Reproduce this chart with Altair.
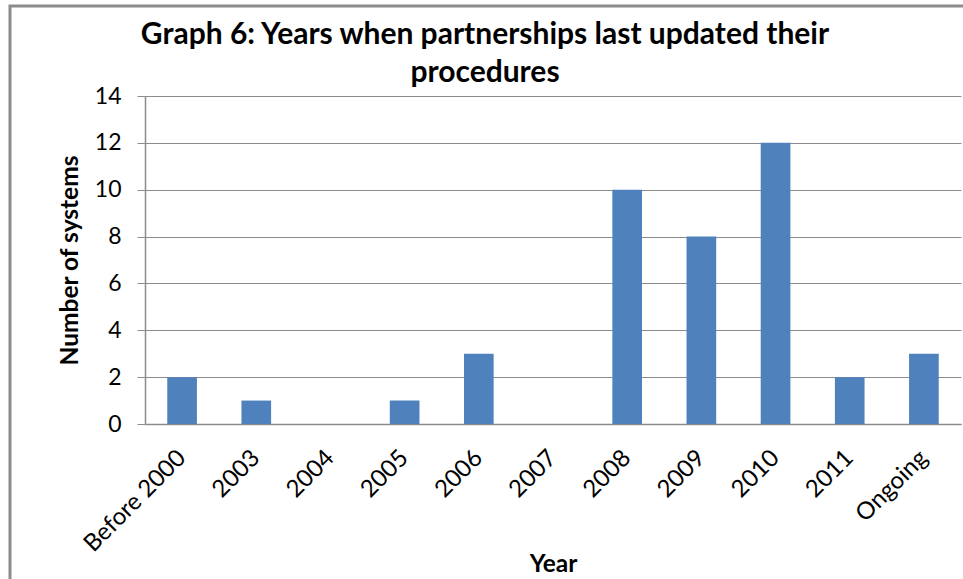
import altair as alt
import pandas as pd

categories = ["Before 2000", "2003", "2004", "2005", "2006", "2007", "2008", "2009", "2010", "2011", "Ongoing"]
values = [2, 1, 0, 1, 3, 0, 10, 8, 12, 2, 3]

df = pd.DataFrame({"Year": categories, "Count": values})

FONT = "Lato"

bars = alt.Chart(df).mark_bar(color="#4F81BD").encode(
    x=alt.X("Year:N", sort=categories,
            scale=alt.Scale(paddingInner=0.6, paddingOuter=0.3),
            axis=alt.Axis(title="Year", labelAngle=-45, labelAlign="right", labelBaseline="middle",
                          labelPadding=30, ticks=False, domainColor="#8C8C8C", domainWidth=1.5,
                          labelFontSize=24, labelFont=FONT, labelColor="#000000",
                          titleFontSize=24.5, titleFont=FONT, titleFontWeight="bold",
                          titleColor="#000000", titlePadding=-4)),
    y=alt.Y("Count:Q", scale=alt.Scale(domain=[0, 14], nice=False),
            axis=alt.Axis(title="Number of systems", values=list(range(0, 15, 2)),
                          tickSize=8, tickColor="#8C8C8C", domainColor="#8C8C8C",
                          gridColor="#8C8C8C", gridWidth=1, domainWidth=1.5,
                          labelFontSize=23, labelFont=FONT, labelColor="#000000", labelPadding=16,
                          titleFontSize=24.5, titleFont=FONT, titleFontWeight="bold",
                          titleColor="#000000", titlePadding=12)),
)

border = alt.Chart(alt.Data(values=[{}])).mark_rect(
    fill=None, stroke="#8C8C8C", strokeWidth=3
).encode(x=alt.value(-135), x2=alt.value(840), y=alt.value(-90), y2=alt.value(500))

chart = alt.layer(border, bars).properties(
    width=816, height=328,
    title=alt.TitleParams(
        text=["Graph 6: Years when partnerships last updated their", "procedures"],
        font=FONT, fontSize=30, fontWeight="bold", color="#000000",
        anchor="middle", dx=-68, offset=-83, lineHeight=38,
    ),
    autosize=alt.AutoSizeParams(type="none"),
    padding={"left": 145, "top": 96, "right": 2, "bottom": 155},
).configure_view(stroke=None).configure_axis(grid=True).configure_axisX(grid=False)

chart.save("out.html", embed_options={"renderer": "svg", "actions": False})
